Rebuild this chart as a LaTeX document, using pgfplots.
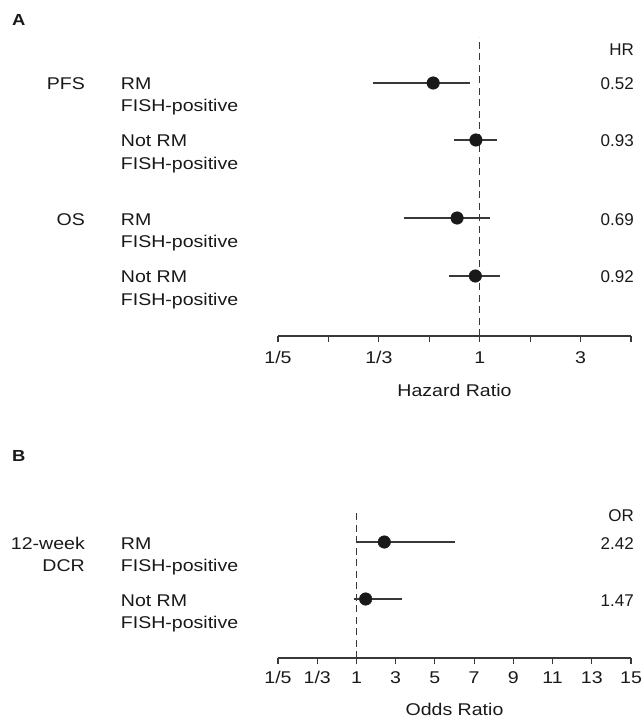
\documentclass[border=0pt]{standalone}
\usepackage{fontspec}
\setmainfont{Liberation Sans}[FakeStretch=1.15]
\newfontfamily\plain{Liberation Sans}
\usepackage{pgfplots}
\pgfplotsset{compat=1.18}

\colorlet{ink}{black!78}
\newcommand\lbl{\fontsize{17bp}{20bp}\selectfont}

% axis drawn as in the paper: 1/x for ratios below 1, linear above
\pgfplotsset{forest/.style={
    scale only axis, width=353bp, clip=false,
    axis x line=bottom, axis y line=none, ytick=\empty,
    x axis line style={-, ink, line width=1.2bp},
    x coord trafo/.code={\pgfmathparse{##1<1 ? 2-1/##1 : ##1}},
    tick align=outside, major tick length=6bp,
    tick style={ink, line width=1.2bp},
    xticklabel style={font=\lbl, text=black!90, anchor=base},
    xlabel style={font=\lbl, text=black!90, at={(axis description cs:0.5,0)}, anchor=base},
  },
  ci/.style={ink, line width=1.8bp, no marks},
  pt/.style={only marks, mark=*, mark size=6.3bp, black!90},
  ref/.style={ink, line width=1.3bp, dash pattern=on 7bp off 4.5bp, no marks},
}

\begin{document}
\begin{tikzpicture}[every node/.style={font=\lbl, text=black!90, inner sep=0pt}]

% ---- A: hazard ratios
\begin{axis}[forest, at={(278bp,-336bp)}, anchor=south west, height=299bp,
    xmin=0.2, xmax=4, ymin=-336, ymax=-37,
    xtick={0.2,0.25,0.333333,0.5,1,2,3,4},
    xticklabels={1/5,,1/3,,1,,3,},
    xticklabel style={yshift=-21.5bp},
    xlabel style={yshift=-60bp},
    xlabel={Hazard Ratio}]
  \addplot[ref] coordinates {(1,-336) (1,-37)};
  \addplot[ci] coordinates {(0.32,-83) (0.84,-83)};
  \addplot[ci] coordinates {(0.66,-140) (1.35,-140)};
  \addplot[ci] coordinates {(0.40,-218) (1.20,-218)};
  \addplot[ci] coordinates {(0.62,-276) (1.40,-276)};
  \addplot[pt] coordinates {(0.52,-83) (0.93,-140) (0.69,-218) (0.92,-276)};
\end{axis}

% ---- B: odds ratios
\begin{axis}[forest, at={(278bp,-658bp)}, anchor=south west, height=145bp,
    xmin=0.2, xmax=15, ymin=-658, ymax=-513,
    xtick={0.2,0.333333,1,3,5,7,9,11,13,15},
    xticklabels={1/5,1/3,1,3,5,7,9,11,13,15},
    xticklabel style={yshift=-19bp},
    xlabel style={yshift=-57.5bp},
    xlabel={Odds Ratio}]
  \addplot[ref] coordinates {(1,-658) (1,-513)};
  \addplot[ci] coordinates {(1.01,-542) (6.03,-542)};
  \addplot[ci] coordinates {(0.90,-599) (3.31,-599)};
  \addplot[pt] coordinates {(2.42,-542) (1.47,-599)};
\end{axis}

% panel letters
\node[anchor=base west, font=\bfseries\fontsize{16bp}{18bp}\selectfont] at (12bp,-25bp) {A};
\node[anchor=base west, font=\bfseries\fontsize{16bp}{18bp}\selectfont] at (12bp,-461.7bp) {B};

% row labels, panel A
\node[anchor=base east] at (85bp,-89.3bp) {PFS};
\node[anchor=base east] at (85bp,-225bp) {OS};
\node[anchor=base west] at (120.7bp,-89.3bp) {RM};
\node[anchor=base west] at (120.7bp,-111.5bp) {FISH-positive};
\node[anchor=base west] at (120.7bp,-146.7bp) {Not RM};
\node[anchor=base west] at (120.7bp,-169bp) {FISH-positive};
\node[anchor=base west] at (120.7bp,-225bp) {RM};
\node[anchor=base west] at (120.7bp,-247.5bp) {FISH-positive};
\node[anchor=base west] at (120.7bp,-282.5bp) {Not RM};
\node[anchor=base west] at (120.7bp,-305bp) {FISH-positive};

% right column, panel A
\node[anchor=base east] at (634bp,-55bp) {\plain\lbl HR};
\node[anchor=base east] at (634bp,-89.3bp) {\plain\lbl 0.52};
\node[anchor=base east] at (634bp,-146.7bp) {\plain\lbl 0.93};
\node[anchor=base east] at (634bp,-225bp) {\plain\lbl 0.69};
\node[anchor=base east] at (634bp,-282.5bp) {\plain\lbl 0.92};

% row labels, panel B
\node[anchor=base east] at (85bp,-549.5bp) {12-week};
\node[anchor=base east] at (85bp,-571.5bp) {DCR};
\node[anchor=base west] at (120.7bp,-549.5bp) {RM};
\node[anchor=base west] at (120.7bp,-571.5bp) {FISH-positive};
\node[anchor=base west] at (120.7bp,-606bp) {Not RM};
\node[anchor=base west] at (120.7bp,-628.5bp) {FISH-positive};

% right column, panel B
\node[anchor=base east] at (634bp,-521bp) {\plain\lbl OR};
\node[anchor=base east] at (634bp,-549.5bp) {\plain\lbl 2.42};
\node[anchor=base east] at (634bp,-606bp) {\plain\lbl 1.47};

\path[use as bounding box] (0,0) rectangle (642bp,-719bp);
\end{tikzpicture}
\end{document}
